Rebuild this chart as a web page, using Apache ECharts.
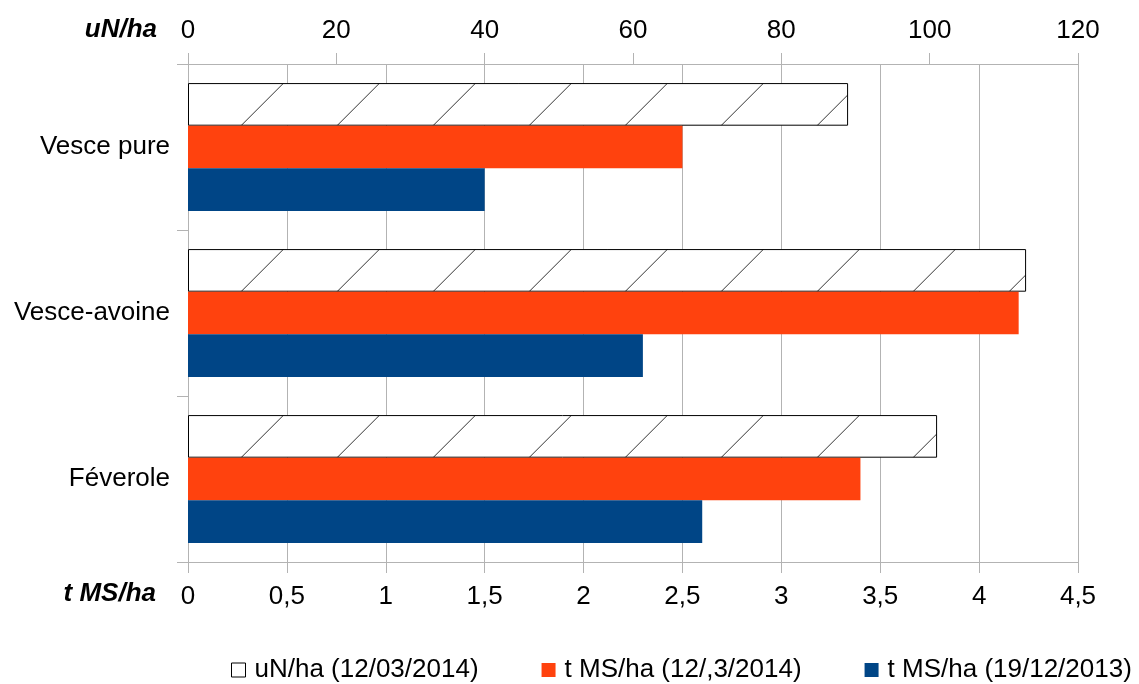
<!DOCTYPE html>
<html>
<head>
<meta charset="utf-8">
<script src="https://cdn.jsdelivr.net/npm/echarts@6/dist/echarts.min.js"></script>
<style>
  html, body { margin: 0; padding: 0; background: #fff; }
  #chart { width: 1139px; height: 684px; }
</style>
</head>
<body>
<div id="chart"></div>
<script>
// données
var categories = ['Vesce pure', 'Vesce-avoine', 'Féverole'];
var seriesNames = ['uN/ha (12/03/2014)', 't MS/ha (12/,3/2014)', 't MS/ha (19/12/2013)'];
var azoteMars = [89, 113, 101];          // uN/ha, axe du haut
var matiereSecheMars = [2.5, 4.2, 3.4];  // t MS/ha
var matiereSecheDec = [1.5, 2.3, 2.6];   // t MS/ha

// motif hachuré pour la série uN/ha
function hachures() {
    var c = document.createElement('canvas');
    c.width = 96;
    c.height = 166;
    var ctx = c.getContext('2d');
    ctx.fillStyle = '#ffffff';
    ctx.fillRect(0, 0, c.width, c.height);
    ctx.strokeStyle = '#333333';
    ctx.lineWidth = 1;
    ctx.beginPath();
    ctx.moveTo(44, 130.7);
    ctx.lineTo(96, 78.7);
    ctx.stroke();
    return c;
}

var police = 'Liberation Sans';
var gris = '#b3b3b3';
var titreAxe = { fontFamily: police, fontSize: 26, fontWeight: 'bold', fontStyle: 'italic', color: '#000' };

var chart = echarts.init(document.getElementById('chart'));

var option = {
    animation: false,
    textStyle: { fontFamily: police },
    // noms des axes
    title: [{
        text: 'uN/ha',
        right: 1139 - 157,
        top: 17,
        padding: 0,
        textStyle: titreAxe
    }, {
        text: 't MS/ha',
        right: 1139 - 156,
        top: 581,
        padding: 0,
        textStyle: titreAxe
    }],
    grid: {
        left: 188, right: 61, top: 64, bottom: 122,
        containLabel: false,
        outerBoundsMode: 'none'
    },
    legend: {
        left: 231,
        width: 960,
        top: 657,
        padding: 0,
        itemWidth: 14,
        itemHeight: 14,
        itemGap: 63,
        icon: 'rect',
        textStyle: { fontFamily: police, fontSize: 26, color: '#000', padding: [0, 0, 0, 4] },
        data: [
            { name: seriesNames[0], itemStyle: { color: '#ffffff', borderColor: '#000', borderWidth: 1 } },
            { name: seriesNames[1] },
            { name: seriesNames[2] }
        ]
    },
    xAxis: [{
        type: 'value',
        position: 'bottom',
        min: 0, max: 4.5, interval: 0.5,
        axisLine: { show: true, lineStyle: { color: gris } },
        axisTick: { show: true, length: 11, lineStyle: { color: gris } },
        axisLabel: {
            margin: 22, fontSize: 26, color: '#000', fontFamily: police,
            formatter: function (v) { return String(v).replace('.', ','); }
        },
        splitLine: { show: true, lineStyle: { color: gris } }
    }, {
        type: 'value',
        position: 'top',
        min: 0, max: 120, interval: 20,
        axisLine: { show: true, lineStyle: { color: gris } },
        axisTick: { show: true, length: 11, lineStyle: { color: gris } },
        axisLabel: { margin: 20, fontSize: 26, color: '#000', fontFamily: police },
        splitLine: { show: false }
    }],
    yAxis: {
        type: 'category',
        inverse: true,
        data: categories,
        axisLine: { show: true, lineStyle: { color: gris } },
        axisTick: { show: true, length: 11, lineStyle: { color: gris } },
        axisLabel: { margin: 18, fontSize: 26, color: '#000', fontFamily: police },
        splitLine: { show: false }
    },
    series: [{
        name: seriesNames[0],
        type: 'bar',
        xAxisIndex: 1,
        data: azoteMars,
        barGap: 0,
        barCategoryGap: '23%',
        itemStyle: {
            color: { image: hachures(), repeat: 'repeat' },
            borderColor: '#000',
            borderWidth: 1
        }
    }, {
        name: seriesNames[1],
        type: 'bar',
        xAxisIndex: 0,
        data: matiereSecheMars,
        barGap: 0,
        barCategoryGap: '23%',
        itemStyle: { color: '#ff420e' }
    }, {
        name: seriesNames[2],
        type: 'bar',
        xAxisIndex: 0,
        data: matiereSecheDec,
        barGap: 0,
        barCategoryGap: '23%',
        itemStyle: { color: '#004586' }
    }]
};

chart.setOption(option);
window.addEventListener('resize', function () { chart.resize(); });
</script>
</body>
</html>
